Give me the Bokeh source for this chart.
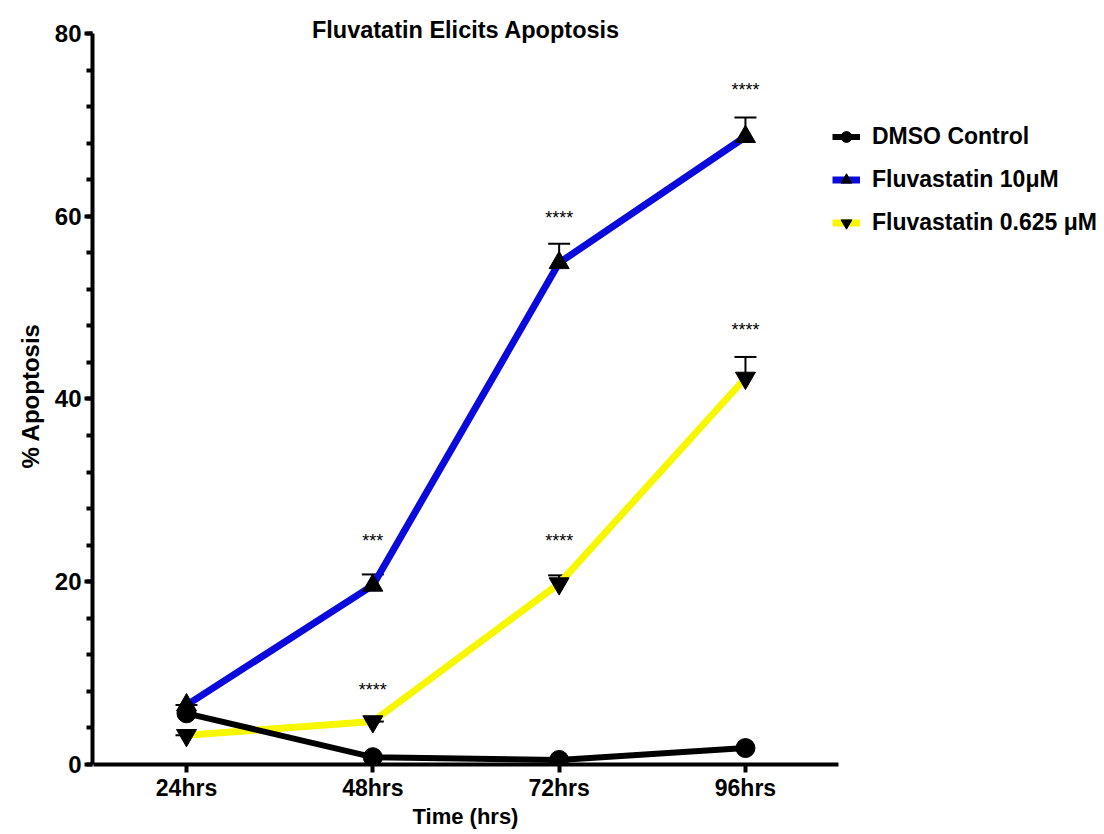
from bokeh.plotting import figure
from bokeh.models import (Range1d, FixedTicker, SingleIntervalTicker, Legend, LegendItem,
                          Whisker, ColumnDataSource, TeeHead, Label, Title)
from bokeh.core.properties import value
from bokeh.embed import file_html
from bokeh.resources import INLINE

# ---- data ----
times = ["24hrs", "48hrs", "72hrs", "96hrs"]
x_pos = [1, 2, 3, 4]
dmso = [5.6, 0.8, 0.5, 1.8]
fluva10 = [6.5, 19.6, 54.9, 68.7]
fluva10_err = [0.0, 1.2, 2.1, 2.1]
fluva0625 = [3.2, 4.7, 19.8, 42.3]
fluva0625_err = [0.0, 0.0, 0.9, 2.3]
sig10 = ["", "***", "****", "****"]
sig10_y = [0, 24.5, 59.8, 73.8]
sig0625 = ["", "****", "****", "****"]
sig0625_y = [0, 8.1, 24.5, 47.6]

FONT = "Liberation Sans"

# frame spans to the canvas top/right so that title and legend are not clipped;
# axis lines are limited with bounds
p = figure(width=1104, height=834, output_backend="svg", toolbar_location=None,
           x_range=Range1d(0.4955, 5.927), y_range=Range1d(0, 83.61),
           min_border_left=92, min_border_right=0, min_border_top=0, min_border_bottom=70)
p.outline_line_color = None
p.xgrid.grid_line_color = None
p.ygrid.grid_line_color = None
p.background_fill_color = "white"
p.border_fill_color = "white"

for ax in (p.xaxis[0], p.yaxis[0]):
    ax.axis_line_width = 4
    ax.major_tick_line_width = 4
    ax.minor_tick_line_width = 4
    ax.major_tick_in = 0
    ax.major_tick_out = 8
    ax.minor_tick_in = 0
    ax.minor_tick_out = 6
    ax.major_label_text_font = FONT
    ax.major_label_text_font_style = "bold"
    ax.major_label_text_color = "black"

p.xaxis.bounds = (0.5, 4.5)
p.xaxis.ticker = FixedTicker(ticks=x_pos, minor_ticks=[])
p.xaxis.major_label_overrides = {x: t for x, t in zip(x_pos, times)}
p.xaxis.major_label_text_font_size = "23px"
p.xaxis.major_label_standoff = 2

p.yaxis.bounds = (0, 80)
p.yaxis.ticker = SingleIntervalTicker(interval=20, num_minor_ticks=5)
p.yaxis.major_label_text_font_size = "24px"
p.yaxis.major_label_standoff = 3

# axis titles (placed as side titles so they can be offset along the shortened axes)
xlab = Title(text="Time (hrs)", align="left", offset=320, standoff=0, vertical_align="top",
             text_font=FONT, text_font_style="bold", text_font_size="22px", text_color="black")
p.add_layout(xlab, "below")
ylab = Title(text="% Apoptosis", align="left", offset=296, standoff=16, vertical_align="bottom",
             text_font=FONT, text_font_style="bold", text_font_size="24px", text_color="black")
p.add_layout(ylab, "left")

src10 = ColumnDataSource(dict(x=x_pos, y=fluva10, up=[v + e for v, e in zip(fluva10, fluva10_err)]))
src06 = ColumnDataSource(dict(x=x_pos, y=fluva0625, up=[v + e for v, e in zip(fluva0625, fluva0625_err)]))
srcd = ColumnDataSource(dict(x=x_pos, y=dmso))

for src in (src10, src06):
    w = Whisker(source=src, base="x", lower="y", upper="up", line_color="black", line_width=2,
                upper_head=TeeHead(size=22, line_width=2, line_color="black"), lower_head=None)
    p.add_layout(w)

l10 = p.line("x", "y", source=src10, line_color="#0a0adc", line_width=7)
l06 = p.line("x", "y", source=src06, line_color="#f7f700", line_width=7)
m10 = p.scatter("x", "y", source=src10, marker="triangle", size=20, color="black")
m06 = p.scatter("x", "y", source=src06, marker="inverted_triangle", size=20, color="black")
ld = p.line("x", "y", source=srcd, line_color="black", line_width=6)
md = p.scatter("x", "y", source=srcd, marker="circle", size=19, color="black")

p.text(x=x_pos, y=sig10_y, text=sig10, text_font=value(FONT), text_font_size="18px",
       text_align="center", text_baseline="middle", text_color="black")
p.text(x=x_pos, y=sig0625_y, text=sig0625, text_font=value(FONT), text_font_size="18px",
       text_align="center", text_baseline="middle", text_color="black")

title = Label(x=2.5, y=80.4, text="Fluvatatin Elicits Apoptosis", text_font=FONT,
              text_font_style="bold", text_font_size="23.5px", text_align="center",
              text_baseline="middle", text_color="black")
p.add_layout(title)

legend = Legend(items=[
    LegendItem(label="DMSO Control", renderers=[ld, md]),
    LegendItem(label="Fluvastatin 10\u03bcM", renderers=[l10, m10]),
    LegendItem(label="Fluvastatin 0.625 \u03bcM", renderers=[l06, m06]),
], location=(740, 528), padding=0, margin=0, spacing=16, glyph_width=28, glyph_height=27,
    label_height=27, label_standoff=12, label_text_font=FONT, label_text_font_style="bold",
    label_text_font_size="23px", label_text_color="black", border_line_color=None,
    background_fill_alpha=0)
p.add_layout(legend)

open("out.html", "w").write(file_html(p, INLINE))
